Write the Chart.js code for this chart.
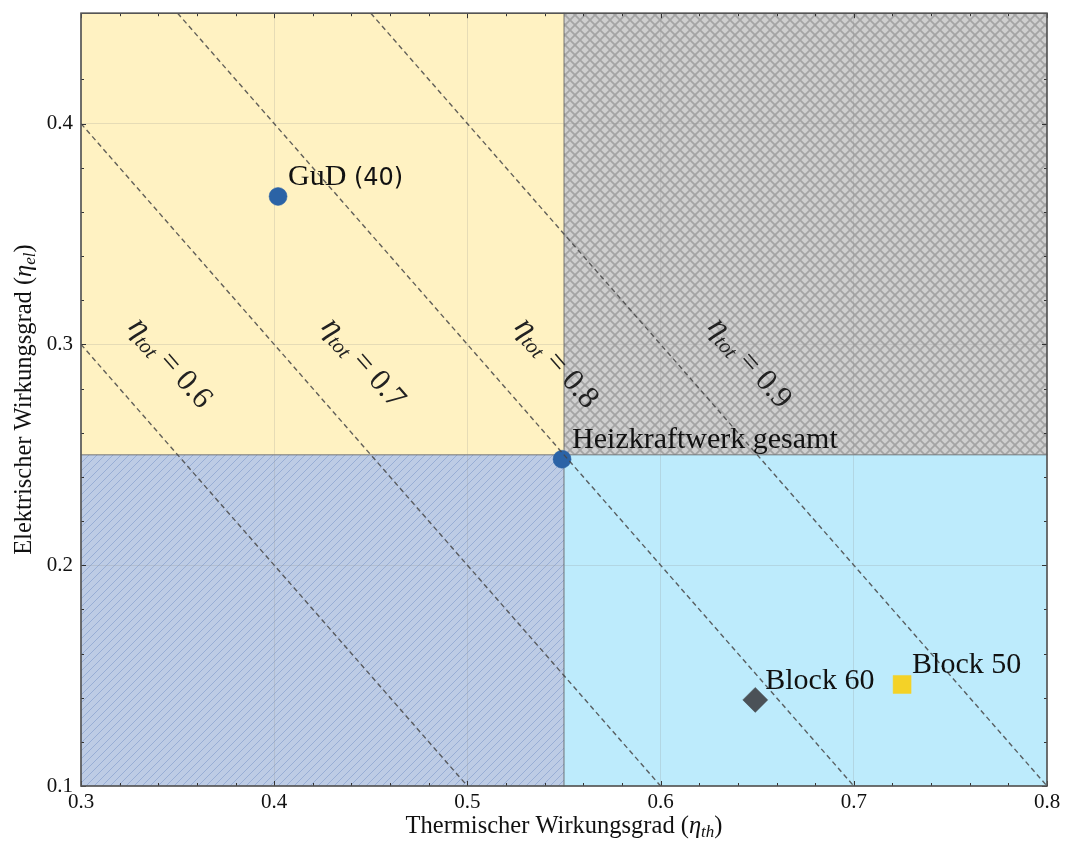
<!DOCTYPE html>
<html><head><meta charset="utf-8">
<script src="https://cdn.jsdelivr.net/npm/chart.js@4.4.0/dist/chart.umd.min.js"></script>
<style>html,body{margin:0;padding:0;background:#fff;}</style>
</head><body>
<canvas id="c" width="1070" height="841"></canvas>
<script>
// Power plant units: thermal vs. electrical efficiency
const plantNames = ['GuD (40)', 'Heizkraftwerk gesamt', 'Block 60', 'Block 50'];
const thermalEff = [0.402, 0.549, 0.649, 0.725];
const electricEff = [0.367, 0.248, 0.139, 0.146];
// Iso-lines of total efficiency (eta_th + eta_el)
const totalEffLevels = [0.6, 0.7, 0.8, 0.9];
// Quadrant thresholds
const thermalThreshold = 0.55;
const electricThreshold = 0.25;
// Axis ranges and labelled ticks
const xRange = [0.3, 0.8];
const yRange = [0.1, 0.45];
const xTickLabels = ['0.3', '0.4', '0.5', '0.6', '0.7', '0.8'];
const yTickLabels = ['0.1', '0.2', '0.3', '0.4'];

const SERIF = '"Liberation Serif", "Times New Roman", serif';
const SANS = '"DejaVu Sans", sans-serif';

function isMultiple(v, step) {
  const q = v / step;
  return Math.abs(q - Math.round(q)) < 1e-6;
}
function fmt(v) { return (Math.round(v * 100) / 100).toFixed(1); }

// hatch patterns
function makePattern(ctx, size, bg, fg, lw, draw) {
  const c = document.createElement('canvas');
  c.width = size; c.height = size;
  const g = c.getContext('2d');
  g.fillStyle = bg; g.fillRect(0, 0, size, size);
  g.strokeStyle = fg; g.lineWidth = lw;
  draw(g, size);
  return ctx.createPattern(c, 'repeat');
}
function diag(g, s) {
  g.beginPath();
  g.moveTo(-1, s + 1); g.lineTo(s + 1, -1);
  g.moveTo(-1, 1); g.lineTo(1, -1);
  g.moveTo(s - 1, s + 1); g.lineTo(s + 1, s - 1);
  g.stroke();
}
function cross(g, s) {
  diag(g, s);
  g.beginPath();
  g.moveTo(-1, -1); g.lineTo(s + 1, s + 1);
  g.moveTo(s - 1, -1); g.lineTo(s + 1, 1);
  g.moveTo(-1, s - 1); g.lineTo(1, s + 1);
  g.stroke();
}

// draws a run of text segments with different fonts / offsets
function richText(ctx, segs, x, y, align) {
  let w = 0;
  segs.forEach(s => { ctx.font = s.font; w += ctx.measureText(s.text).width; });
  let cx = align === 'center' ? x - w / 2 : x;
  ctx.textAlign = 'left';
  segs.forEach(s => {
    ctx.font = s.font;
    ctx.fillText(s.text, cx, y + (s.dy || 0));
    cx += ctx.measureText(s.text).width;
  });
}

const quadrantPlugin = {
  id: 'quadrants',
  beforeDraw(chart) {
    const { ctx, scales: { x, y } } = chart;
    const px = v => x.getPixelForValue(v), py = v => y.getPixelForValue(v);
    const L = px(xRange[0]), R = px(xRange[1]), T = py(yRange[1]), B = py(yRange[0]);
    const mx = px(thermalThreshold), my = py(electricThreshold);
    const blueHatch = makePattern(ctx, 8, '#bdcce5', '#98aed5', 1, diag);
    const grayHatch = makePattern(ctx, 10, '#cfcfcf', '#a4a4a4', 1.7, cross);
    const rects = [
      [L, T, mx - L, my - T, '#fff2c2'],
      [mx, T, R - mx, my - T, grayHatch],
      [L, my, mx - L, B - my, blueHatch],
      [mx, my, R - mx, B - my, '#bdebfc']
    ];
    ctx.save();
    rects.forEach(r => { ctx.fillStyle = r[4]; ctx.fillRect(r[0], r[1], r[2], r[3]); });
    ctx.strokeStyle = 'rgba(90,90,90,0.45)';
    ctx.lineWidth = 1;
    rects.forEach(r => ctx.strokeRect(r[0], r[1], r[2], r[3]));
    ctx.restore();
  },
  afterDraw(chart) {
    const { ctx, chartArea: a, scales: { x, y } } = chart;
    ctx.save();
    // inward ticks on all four sides
    ctx.strokeStyle = '#333'; ctx.lineWidth = 1;
    x.ticks.forEach(t => {
      if (!isMultiple(t.value, 0.02)) return;
      const p = Math.round(x.getPixelForValue(t.value)) + 0.5;
      const len = isMultiple(t.value, 0.1) ? 5 : 3;
      ctx.beginPath();
      ctx.moveTo(p, a.bottom); ctx.lineTo(p, a.bottom - len);
      ctx.moveTo(p, a.top); ctx.lineTo(p, a.top + len);
      ctx.stroke();
    });
    y.ticks.forEach(t => {
      if (!isMultiple(t.value, 0.02)) return;
      const p = Math.round(y.getPixelForValue(t.value)) + 0.5;
      const len = isMultiple(t.value, 0.1) ? 5 : 3;
      ctx.beginPath();
      ctx.moveTo(a.left, p); ctx.lineTo(a.left + len, p);
      ctx.moveTo(a.right, p); ctx.lineTo(a.right - len, p);
      ctx.stroke();
    });
    // frame
    ctx.strokeStyle = '#555'; ctx.lineWidth = 1.6;
    ctx.strokeRect(a.left, a.top, a.right - a.left, a.bottom - a.top);

    // iso-line labels, rotated along the lines
    ctx.fillStyle = '#222';
    ctx.textBaseline = 'middle';
    const ang = Math.atan2(y.getPixelForValue(0) - y.getPixelForValue(0.1), x.getPixelForValue(0.1) - x.getPixelForValue(0));
    totalEffLevels.forEach(c => {
      const cx = x.getPixelForValue(c - 0.29 + 0.036), cy = y.getPixelForValue(0.2915);
      ctx.save();
      ctx.translate(cx, cy);
      ctx.rotate(ang);
      richText(ctx, [
        { text: 'η', font: 'italic 32px ' + SERIF },
        { text: 'tot', font: 'italic 21px ' + SERIF, dy: 8 },
        { text: ' = ' + c.toFixed(1), font: '31px ' + SERIF }
      ], 0, 0, 'center');
      ctx.restore();
    });

    // point annotations
    ctx.fillStyle = '#111';
    ctx.textBaseline = 'alphabetic';
    plantNames.forEach((n, i) => {
      const px = x.getPixelForValue(thermalEff[i]) + 10;
      const py = y.getPixelForValue(electricEff[i]) - 11;
      const m = n.match(/^(.*?)(\s*\(\d+\))$/);
      const segs = m ? [{ text: m[1] + ' ', font: '30px ' + SERIF }, { text: m[2].trim(), font: '24px ' + SANS }]
                     : [{ text: n, font: '30px ' + SERIF }];
      richText(ctx, segs, px, py, 'left');
    });

    // axis titles
    ctx.fillStyle = '#111';
    const midX = (a.left + a.right) / 2;
    richText(ctx, [
      { text: 'Thermischer Wirkungsgrad (', font: '24.5px ' + SERIF },
      { text: 'η', font: 'italic 24.5px ' + SERIF },
      { text: 'th', font: 'italic 17px ' + SERIF, dy: 4 },
      { text: ')', font: '24.5px ' + SERIF }
    ], midX, 833, 'center');
    ctx.save();
    ctx.translate(31, (a.top + a.bottom) / 2);
    ctx.rotate(-Math.PI / 2);
    richText(ctx, [
      { text: 'Elektrischer Wirkungsgrad (', font: '24.5px ' + SERIF },
      { text: 'η', font: 'italic 24.5px ' + SERIF },
      { text: 'el', font: 'italic 17px ' + SERIF, dy: 4 },
      { text: ')', font: '24.5px ' + SERIF }
    ], 0, 0, 'center');
    ctx.restore();
    ctx.restore();
  }
};

// dashed iso-lines clipped to the axis ranges
const isoDatasets = totalEffLevels.map(c => {
  const x0 = Math.max(xRange[0], c - yRange[1]);
  const x1 = Math.min(xRange[1], c - yRange[0]);
  return {
    type: 'line',
    data: [{ x: x0, y: c - x0 }, { x: x1, y: c - x1 }],
    borderColor: 'rgba(70,70,70,0.85)',
    borderWidth: 1.4,
    borderDash: [5, 3.5],
    pointRadius: 0,
    fill: false,
    order: 0
  };
});

const markerStyles = [
  { pointStyle: 'circle', radius: 9, color: '#2b63a6' },
  { pointStyle: 'circle', radius: 9, color: '#2b63a6' },
  { pointStyle: 'rectRot', radius: 12.5, color: '#4b5157' },
  { pointStyle: 'rect', radius: 12.7, color: '#f4d227' }
];
const pointDatasets = plantNames.map((n, i) => ({
  type: 'scatter',
  label: n,
  data: [{ x: thermalEff[i], y: electricEff[i] }],
  pointStyle: markerStyles[i].pointStyle,
  pointRadius: markerStyles[i].radius,
  backgroundColor: markerStyles[i].color,
  borderColor: markerStyles[i].color,
  borderWidth: 0.5,
  order: 1
}));

new Chart(document.getElementById('c'), {
  type: 'scatter',
  data: { datasets: [...pointDatasets, ...isoDatasets] },
  options: {
    responsive: false,
    animation: false,
    devicePixelRatio: 1,
    layout: { padding: { left: 0, top: 10, right: 23, bottom: 0 } },
    plugins: { legend: { display: false }, tooltip: { enabled: false } },
    scales: {
      x: {
        type: 'linear', min: xRange[0], max: xRange[1],
        afterFit(s) { s.height = 55; s.paddingLeft = 0; s.paddingRight = 0; },
        border: { display: false },
        grid: {
          drawTicks: false,
          color: c => (c.tick && isMultiple(c.tick.value, 0.1) && c.tick.value > xRange[0] + 1e-6 && c.tick.value < xRange[1] - 1e-6) ? 'rgba(140,140,140,0.22)' : 'transparent',
          lineWidth: 1
        },
        ticks: {
          stepSize: 0.02, autoSkip: false, maxRotation: 0, padding: 4,
          color: '#111', font: { family: SERIF, size: 21 },
          callback: v => (isMultiple(v, 0.1) && xTickLabels.includes(fmt(v))) ? fmt(v) : ''
        }
      },
      y: {
        type: 'linear', min: yRange[0], max: yRange[1],
        afterFit(s) { s.width = 81; s.paddingTop = 0; s.paddingBottom = 0; },
        border: { display: false },
        grid: {
          drawTicks: false,
          color: c => (c.tick && isMultiple(c.tick.value, 0.1) && c.tick.value > yRange[0] + 1e-6) ? 'rgba(140,140,140,0.22)' : 'transparent',
          lineWidth: 1
        },
        ticks: {
          stepSize: 0.02, autoSkip: false, padding: 8,
          color: '#111', font: { family: SERIF, size: 21 },
          callback: v => (isMultiple(v, 0.1) && yTickLabels.includes(fmt(v))) ? fmt(v) : ''
        }
      }
    }
  },
  plugins: [quadrantPlugin]
});
</script>
</body></html>
